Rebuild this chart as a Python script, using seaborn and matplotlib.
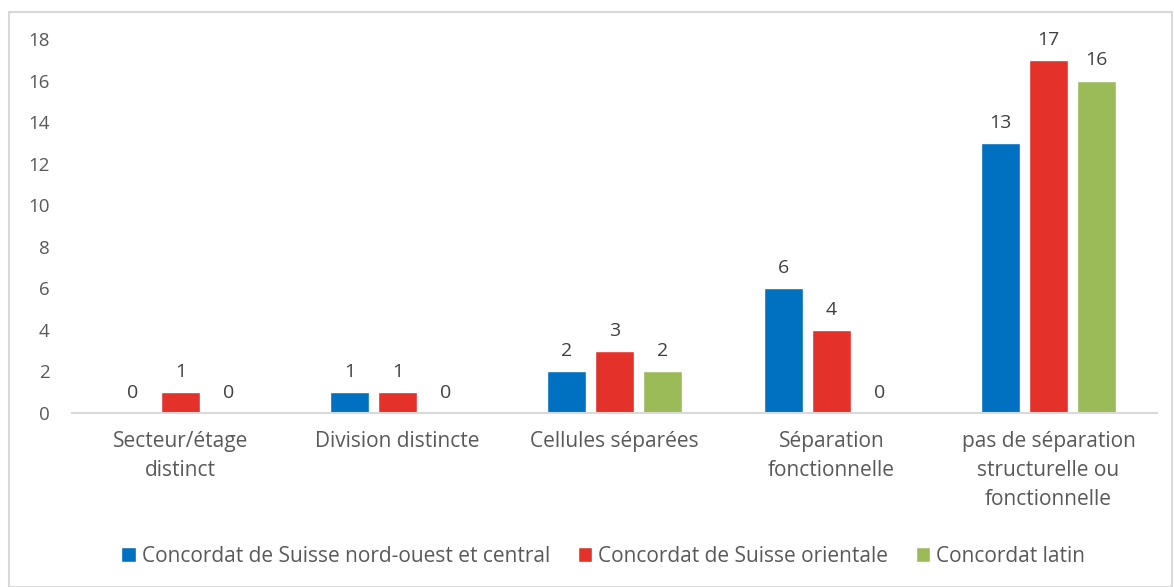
import pandas as pd
import numpy as np
import seaborn as sns
from matplotlib import pyplot as plt
from matplotlib.patches import Rectangle

categories = ["Secteur/étage\ndistinct", "Division distincte", "Cellules séparées",
              "Séparation\nfonctionnelle", "pas de séparation\nstructurelle ou\nfonctionnelle"]
series = ["Concordat de Suisse nord-ouest et central", "Concordat de Suisse orientale",
          "Concordat latin"]
nord_ouest = [0, 1, 2, 6, 13]
orientale = [1, 1, 3, 4, 17]
latin = [0, 0, 2, 0, 16]
colors = ["#0070C0", "#E4322B", "#9BBB59"]

df = pd.DataFrame({
    "cat": categories * 3,
    "serie": np.repeat(series, len(categories)),
    "val": nord_ouest + orientale + latin,
})

sns.set_style("white")
plt.rcParams["font.family"] = ["Open Sans", "DejaVu Sans"]

fig = plt.figure(figsize=(11.74, 5.87), dpi=100)
ax = fig.add_axes([0.0613, 0.2964, 0.9242, 0.6372])
sns.barplot(data=df, x="cat", y="val", hue="serie", palette=colors,
            width=0.663, gap=0.2, saturation=1, ax=ax, legend=True)

for cont in ax.containers:
    ax.bar_label(cont, padding=8, fontsize=14, color="#404040")

ax.set_ylim(0, 18)
ax.set_yticks(range(0, 19, 2))
ax.set_xlim(-0.5, 4.5)
ax.set_xlabel("")
ax.set_ylabel("")
for s in ["top", "right", "left"]:
    ax.spines[s].set_visible(False)
ax.spines["bottom"].set_color("#D9D9D9")
ax.spines["bottom"].set_linewidth(1.5)
ax.tick_params(axis="y", length=0, pad=16, labelsize=13.5, labelcolor="#595959")
ax.tick_params(axis="x", length=0, pad=13, labelsize=15, labelcolor="#595959")
for t in ax.get_xticklabels():
    t.set_linespacing(1.5)
    t.set_verticalalignment("top")

handles, labels = ax.get_legend_handles_labels()
ax.legend_.remove()
fig.legend(handles, labels, loc="center", bbox_to_anchor=(0.514, 0.052), ncol=3,
           frameon=False, fontsize=15, labelcolor="#595959", handlelength=0.7,
           handleheight=0.7, handletextpad=0.3, columnspacing=1.3)

fig.patches.append(Rectangle((0.008, 0.0), 0.99, 0.98, transform=fig.transFigure,
                             fill=False, edgecolor="#D9D9D9", linewidth=1.5))

fig.savefig("out.png", dpi=100)
